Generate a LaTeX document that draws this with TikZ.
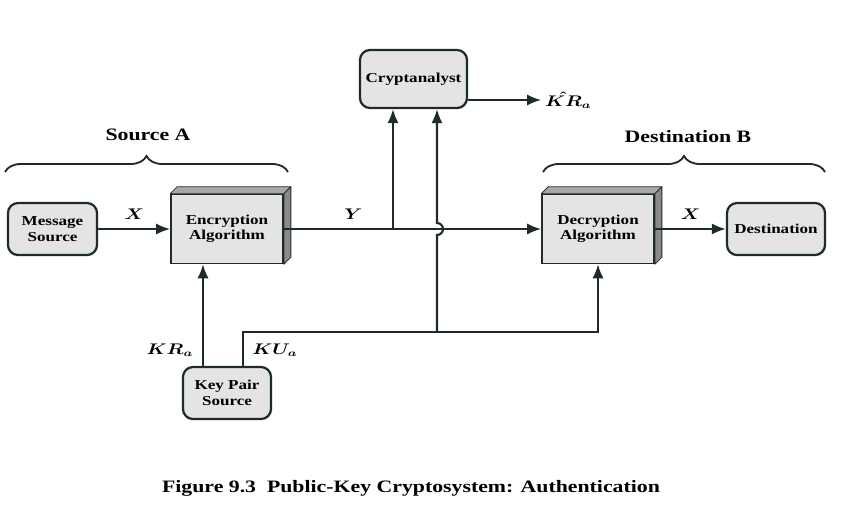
\documentclass[tikz,border=0pt]{standalone}
\usepackage{fontspec}
\setmainfont[FakeStretch=1.25]{Liberation Serif}
\usetikzlibrary{arrows.meta,decorations.pathreplacing,calc}
\definecolor{boxgray}{HTML}{E4E4E4}
\definecolor{sidegray}{HTML}{8A8A8A}
\definecolor{topgray}{HTML}{A8A8A8}
\definecolor{ink}{HTML}{1E2B2B}
\newcommand{\keylbl}[1]{\scalebox{1.25}[1]{\boldmath$#1$}}

\begin{document}
\begin{tikzpicture}[x=0.025cm,y=-0.025cm,
rnd/.style = {draw=ink,line width=1.6pt,rounded corners=0.25cm,fill=boxgray,align=center,inner sep=0pt,font=\bfseries\fontsize{9.7}{11}\selectfont},
alg/.style = {draw=ink,line width=1.2pt,fill=boxgray,align=center,minimum width=2.8cm,minimum height=1.72cm,font=\bfseries\fontsize{9.7}{11}\selectfont},
face/.style = {draw=ink,line width=0.6pt,line join=round},
lnk/.style = {draw=ink,line width=1.5pt},
arr/.style = {lnk,-{Latex[length=10pt,width=8pt]}},
brc/.style = {draw=ink,line width=1.3pt,decorate,decoration={brace,amplitude=0.4cm}},
ttl/.style = {font=\bfseries\fontsize{12.4}{14}\selectfont},
lbl/.style = {font=\fontsize{10.5}{12}\selectfont},
figcap/.style = {font=\bfseries\fontsize{12.4}{14}\selectfont}
]
  \useasboundingbox (0,0) rectangle (860,514);

  \node[rnd,minimum width=2.225cm,minimum height=1.3cm] (msg) at (52.5,229) {Message\\Source};
  \node[alg] (enc) at (227,229) {Encryption\\Algorithm};
  \node[rnd,minimum width=2.675cm,minimum height=1.45cm] (crypt) at (413.5,79) {Cryptanalyst};
  \node[alg] (dec) at (598,229) {Decryption\\Algorithm};
  \node[rnd,minimum width=2.45cm,minimum height=1.3cm] (dst) at (776,229) {Destination};
  \node[rnd,minimum width=2.2cm,minimum height=1.3cm] (keys) at (227,393) {Key Pair\\Source};

  % 3d faces of the two algorithm boxes
  \path[face,fill=topgray] (enc.north west) -- ++(7,-7) -- ($(enc.north east)+(7,-7)$) -- (enc.north east) -- cycle;
  \path[face,fill=sidegray] (enc.north east) -- ++(7,-7) -- ($(enc.south east)+(7,-7)$) -- (enc.south east) -- cycle;
  \path[face,fill=topgray] (dec.north west) -- ++(7,-7) -- ($(dec.north east)+(7,-7)$) -- (dec.north east) -- cycle;
  \path[face,fill=sidegray] (dec.north east) -- ++(7,-7) -- ($(dec.south east)+(7,-7)$) -- (dec.south east) -- cycle;

  \coordinate (tap) at (393,229);
  \coordinate (junc) at (437,332);

  \path[arr] (msg) -- (enc) node[midway,above=3pt,lbl] {\keylbl{X}};
  \path[arr] (enc.east) -- (dec.west) node[pos=0.27,above=3pt,lbl] {\keylbl{Y}};
  \path[arr] (dec) -- (dst) node[midway,above=3pt,lbl] {\keylbl{X}};
  \path[arr] (tap) -- (tap |- crypt.south);
  \path[arr] (junc) -- ($(junc |- enc.east)+(0,6)$) arc[start angle=-90,end angle=90,radius=0.15cm] -- (junc |- crypt.south);
  \path[arr] ([xshift=-0.6cm]keys.north) -- ([xshift=-0.6cm]keys.north |- enc.south);
  \path[arr] ([xshift=0.4cm]keys.north) |- (junc) -| (dec.south);
  \path[arr] ([yshift=-0.525cm]crypt.east) -- ++(73,0) node[right,lbl,inner sep=2pt] (est) {\keylbl{\hat{KR}_a}};

  \node[lbl] (kra) at (170,350) {\keylbl{KR_a}};
  \node[lbl] (kua) at (275,350) {\keylbl{KU_a}};

  \draw[brc] (5,172) -- (288,172);
  \draw[brc] (543,172) -- (825,172);
  \node[ttl] (srca) at (148,135) {Source A};
  \node[ttl] (dstb) at (688,137) {Destination B};

  \node[figcap] (fig) at (411,488) {Figure 9.3\ \ Public-Key Cryptosystem: Authentication};
\end{tikzpicture}
\end{document}
